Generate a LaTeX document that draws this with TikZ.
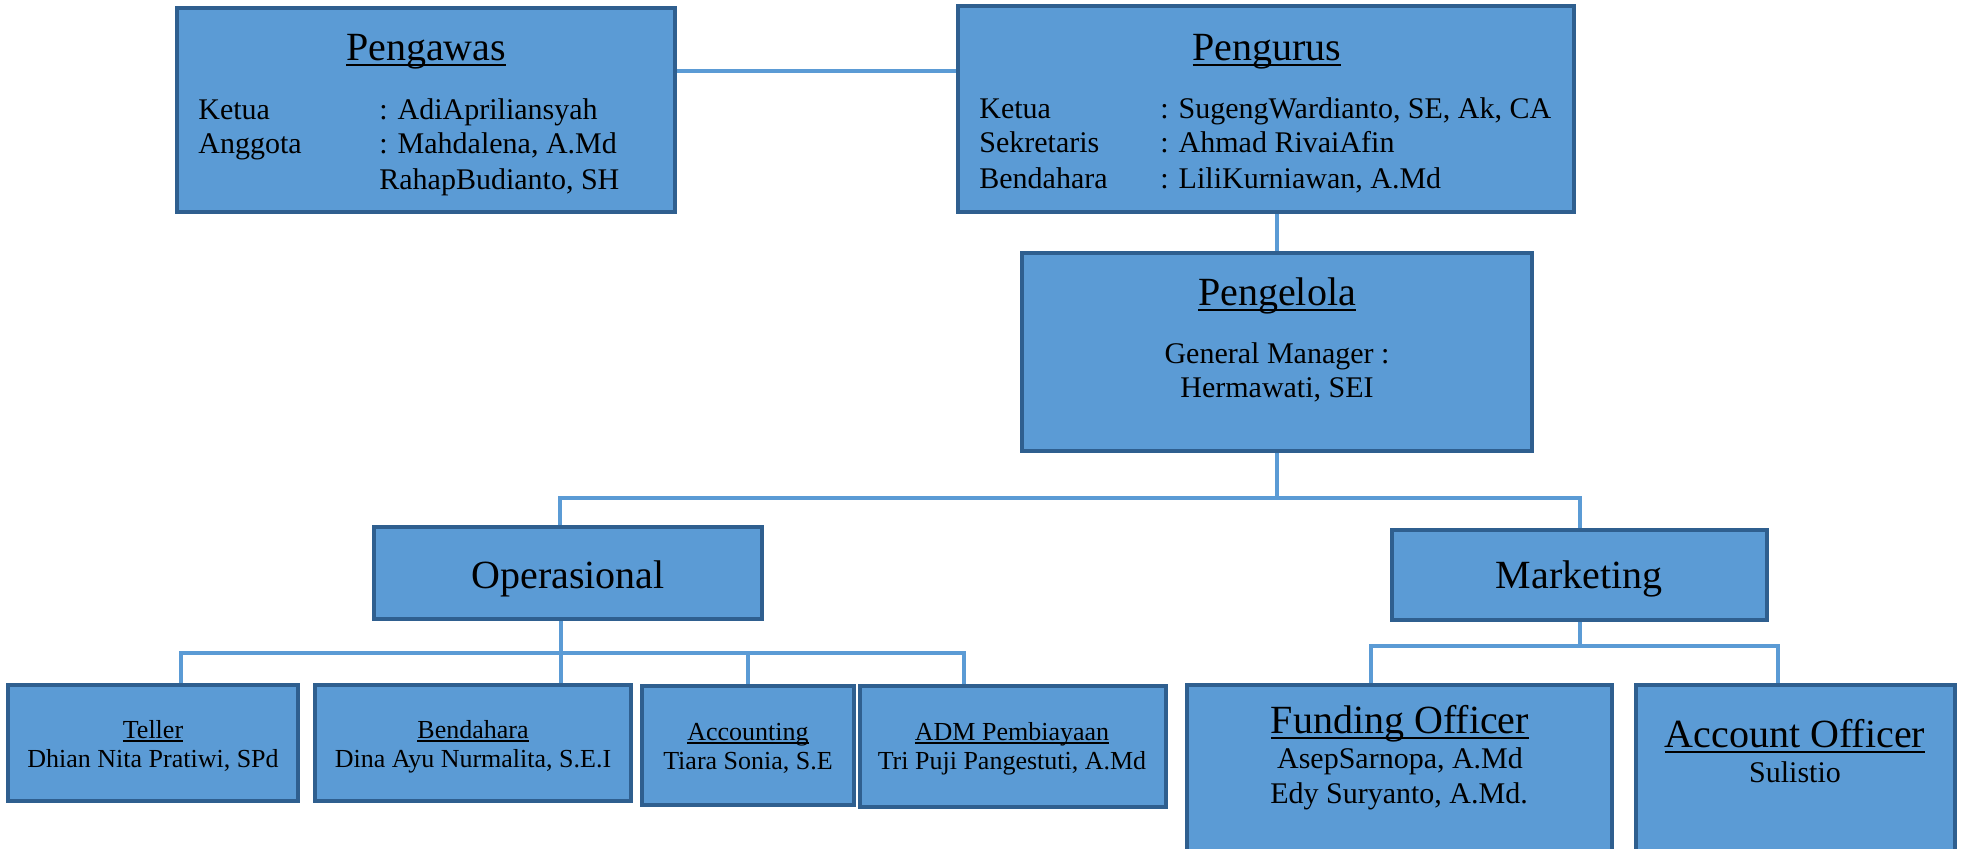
\documentclass[tikz,border=0pt]{standalone}
\usepackage{fontspec}
\setmainfont{Liberation Serif}
\definecolor{boxfill}{HTML}{5B9BD5}
\definecolor{boxline}{HTML}{2F5F8F}
\definecolor{connline}{HTML}{5B9BD5}
\newcommand\myul[1]{\setbox0\hbox{#1}\rlap{\rule[-0.15em]{\wd0}{0.06em}}\box0}
\tikzset{
 box/.style={draw=boxline, fill=boxfill, line width=1.4pt, inner sep=0pt},
 conn/.style={draw=connline, line width=2pt},
 big/.style={font=\fontsize{20}{24}\selectfont, anchor=base, inner sep=0pt},
 body/.style={font=\fontsize{15}{18}\selectfont, anchor=base west, inner sep=0pt},
 bodyc/.style={font=\fontsize{15}{18}\selectfont, anchor=base, inner sep=0pt},
 small/.style={font=\fontsize{13}{15}\selectfont, anchor=base, inner sep=0pt},
}
\begin{document}
\begin{tikzpicture}[x=0.5pt,y=-0.5pt]
\useasboundingbox (0,0) rectangle (1961,848);
\clip (0,0) rectangle (1961,848);

% boxes
\path
 node[box, minimum width=248pt, minimum height=101pt] (pengawas) at (426,110) {}
 node[box, minimum width=307pt, minimum height=102pt] (pengurus) at (1266,109) {}
 node[box, minimum width=254pt, minimum height=98pt] (pengelola) at (1277,352) {}
 node[box, minimum width=193pt, minimum height=45pt] (operasional) at (568,573) {}
 node[box, minimum width=186.5pt, minimum height=44pt] (marketing) at (1579.5,575) {}
 node[box, minimum width=144pt, minimum height=57pt] (teller) at (153,743) {}
 node[box, minimum width=157pt, minimum height=57pt] (bend) at (473,743) {}
 node[box, minimum width=105pt, minimum height=58.5pt] (acc) at (748,745.5) {}
 node[box, minimum width=152pt, minimum height=59.5pt] (adm) at (1013,746.5) {}
 node[box, minimum width=211.5pt, minimum height=97pt] (fund) at (1399.5,783) {}
 node[box, minimum width=158.5pt, minimum height=97pt] (acct) at (1795.5,783) {};

% connectors
\coordinate (pw) at (800,71);
\coordinate (busA) at (1277,498);
\coordinate (busB) at (561,653);
\coordinate (busC) at (1577,646);
\draw[conn] (pengawas.east |- pw) -- (pengurus.west |- pw);
\draw[conn] (pengurus.south -| pengelola.north) -- (pengelola.north);
\draw[conn] (pengelola.south) -- (busA);
\draw[conn] ([xshift=-4pt]operasional.north) |- (busA) -| (marketing.north);
\draw[conn] ([xshift=-3.5pt]operasional.south) -- (busB);
\draw[conn] ([xshift=14pt]teller.north) |- ([xshift=-24.5pt]adm.north |- busB) -- ([xshift=-24.5pt]adm.north);
\draw[conn] ([xshift=44pt]bend.north) -- ([xshift=44pt]bend.north |- busB);
\draw[conn] (acc.north) -- (acc.north |- busB);
\draw[conn] (marketing.south) -- (marketing.south |- busC);
\draw[conn] ([xshift=-14.25pt]fund.north) |- ([xshift=-8.75pt]acct.north |- busC) -- ([xshift=-8.75pt]acct.north);

% redraw box borders on top of connector ends
\foreach \n in {pengawas,pengurus,pengelola,operasional,marketing,teller,bend,acc,adm,fund,acct}{
  \draw[draw=boxline, line width=1.4pt] (\n.north west) rectangle (\n.south east);
}

% Pengawas text
\node[big] (t1) at (426,60) {\myul{Pengawas}};
\node[body] (t2) at (198,119) {Ketua};
\node[body] (t3) at (379,119) {: AdiApriliansyah};
\node[body] (t4) at (198,153) {Anggota};
\node[body] (t5) at (379,153) {: Mahdalena, A.Md};
\node[body] (t6) at (379,189) {RahapBudianto, SH};

% Pengurus text
\node[big] (t7) at (1267,60) {\myul{Pengurus}};
\node[body] (t8) at (979,118) {Ketua};
\node[body] (t9) at (1160,118) {: SugengWardianto, SE, Ak, CA};
\node[body] (t10) at (979,152) {Sekretaris};
\node[body] (t11) at (1160,152) {: Ahmad RivaiAfin};
\node[body] (t12) at (979,188) {Bendahara};
\node[body] (t13) at (1160,188) {: LiliKurniawan, A.Md};

% Pengelola text
\node[big] (t14) at (1277,305) {\myul{Pengelola}};
\node[bodyc] (t15) at (1277,363) {General Manager :};
\node[bodyc] (t16) at (1277,397) {Hermawati, SEI};

% Operasional / Marketing
\node[big] (t17) at (568,588) {Operasional};
\node[big] (t18) at (1579,588) {Marketing};

% bottom row
\node[small] (t19) at (153,738) {\myul{Teller}};
\node[small] (t20) at (153,767) {Dhian Nita Pratiwi, SPd};
\node[small] (t21) at (473,738) {\myul{Bendahara}};
\node[small] (t22) at (473,767) {Dina Ayu Nurmalita, S.E.I};
\node[small] (t23) at (748,740) {\myul{Accounting}};
\node[small] (t24) at (748,769) {Tiara Sonia, S.E};
\node[small] (t25) at (1012,740) {\myul{ADM Pembiayaan}};
\node[small] (t26) at (1012,769) {Tri Puji Pangestuti, A.Md};

% Funding / Account officer
\node[big] (t27) at (1400,733) {\myul{Funding Officer}};
\node[bodyc] (t28) at (1400,768) {AsepSarnopa, A.Md};
\node[bodyc] (t29) at (1399,803) {Edy Suryanto, A.Md.};
\node[big] (t30) at (1795,747) {\myul{Account Officer}};
\node[bodyc] (t31) at (1795,782) {Sulistio};
\end{tikzpicture}
\end{document}
